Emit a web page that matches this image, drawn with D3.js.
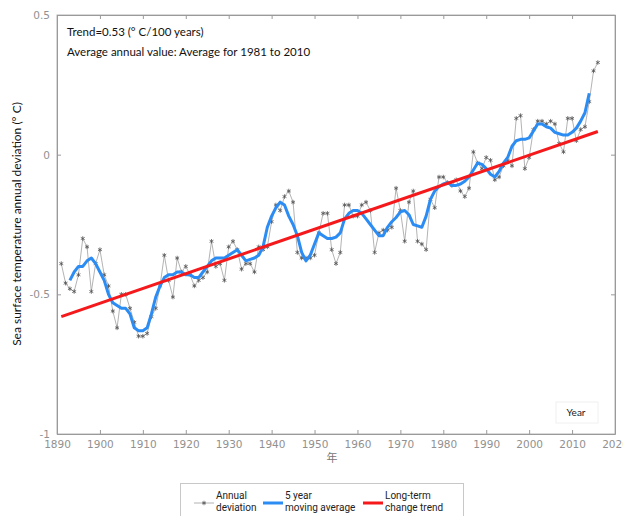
<!DOCTYPE html>
<html>
<head>
<meta charset="utf-8">
<script src="https://cdn.jsdelivr.net/npm/d3@7"></script>
<style>
body { margin: 0; background: #fff; }
svg { display: block; }
</style>
</head>
<body>
<script>
(function(){

// first year of the annual series
var firstYear = 1891;

// annual SST deviation (deg C), 1891-2016
var annualDev = [
    -0.39, -0.46, -0.48, -0.49, -0.43, -0.30, -0.33, -0.49, -0.39, -0.34,
    -0.43, -0.47, -0.56, -0.62, -0.50, -0.50, -0.55, -0.60, -0.65, -0.65,
    -0.64, -0.58, -0.55, -0.47, -0.36, -0.45, -0.51, -0.37, -0.42, -0.40,
    -0.43, -0.47, -0.45, -0.44, -0.42, -0.31, -0.40, -0.39, -0.45, -0.33,
    -0.31, -0.34, -0.41, -0.39, -0.39, -0.42, -0.33, -0.34, -0.33, -0.24,
    -0.18, -0.20, -0.15, -0.13, -0.17, -0.35, -0.37, -0.37, -0.37, -0.36,
    -0.28, -0.21, -0.21, -0.34, -0.39, -0.35, -0.18, -0.18, -0.22, -0.22,
    -0.18, -0.17, -0.20, -0.35, -0.28, -0.27, -0.27, -0.26, -0.12, -0.20,
    -0.31, -0.17, -0.13, -0.31, -0.32, -0.34, -0.16, -0.19, -0.08, -0.08,
    -0.10, -0.11, -0.09, -0.13, -0.15, -0.12,  0.01, -0.03, -0.05, -0.01,
    -0.02, -0.09, -0.08, -0.04, -0.02, -0.04,  0.13,  0.14, -0.05, -0.01,
     0.09,  0.12,  0.12,  0.11,  0.12,  0.11,  0.04,  0.01,  0.13,  0.13,
     0.05,  0.09,  0.10,  0.19,  0.30,  0.33
];

// 5 year moving average, 1893-2014
var avgStart = 1893;
var movingAvg = [
    -0.45, -0.42, -0.40, -0.40, -0.38, -0.37, -0.39, -0.42,
    -0.45, -0.50, -0.53, -0.54, -0.55, -0.55, -0.57, -0.62, -0.63, -0.63,
    -0.62, -0.57, -0.51, -0.47, -0.44, -0.43, -0.43, -0.42, -0.42, -0.43,
    -0.43, -0.44, -0.44, -0.42, -0.40, -0.38, -0.37, -0.37, -0.37, -0.36,
    -0.35, -0.34, -0.36, -0.38, -0.375, -0.37, -0.36, -0.33, -0.26, -0.22,
    -0.19, -0.17, -0.18, -0.22, -0.25, -0.29, -0.35, -0.38, -0.36, -0.32,
    -0.28, -0.29, -0.30, -0.30, -0.295, -0.28, -0.23, -0.21, -0.20, -0.20,
    -0.21, -0.23, -0.25, -0.27, -0.29, -0.29, -0.26, -0.24, -0.225, -0.205,
    -0.20, -0.215, -0.25, -0.255, -0.26, -0.22, -0.16, -0.13, -0.115, -0.105,
    -0.10, -0.11, -0.11, -0.105, -0.095, -0.08, -0.055, -0.03, -0.035, -0.05,
    -0.07, -0.08, -0.06, -0.03, -0.01, 0.03, 0.05, 0.055, 0.055, 0.06,
     0.085, 0.11, 0.11, 0.10, 0.095, 0.08, 0.075, 0.07, 0.07, 0.08,
     0.095, 0.12, 0.15, 0.22
];

// long-term trend (0.53 deg C / 100 years)
var trendYears = [1891, 2016];
var trendValues = [-0.58, 0.083];

// tick labels
var xTicks = [1890, 1900, 1910, 1920, 1930, 1940, 1950, 1960, 1970, 1980, 1990, 2000, 2010, 2020];
var yTicks = [-1, -0.5, 0, 0.5];

// texts
var noteLines = ["Trend=0.53 (\u00b0 C/100 years)", "Average annual value: Average for 1981 to 2010"];
var legendLabels = [["Annual", "deviation"], ["5 year", "moving average"], ["Long-term", "change trend"]];

// frame dimensions
var width = 623,
    height = 516,
    plotLeft = 57,
    plotRight = 615,
    plotTop = 15,
    plotBottom = 434;

var blue = "#2b8cf3",
    red = "#f5191c";

var svg = d3.select("body")
    .append("svg")
    .attr("width", width)
    .attr("height", height);

var x = d3.scaleLinear().domain([1890, 2020]).range([plotLeft, plotRight]);
var y = d3.scaleLinear().domain([-1, 0.5]).range([plotBottom, plotTop]);

// build point arrays
var annualPts = annualDev.map(function(v, i){ return [firstYear + i, v]; });
var avgPts = movingAvg.map(function(v, i){ return [avgStart + i, v]; });
var trendPts = trendYears.map(function(yr, i){ return [yr, trendValues[i]]; });

var line = d3.line()
    .x(function(d){ return x(d[0]); })
    .y(function(d){ return y(d[1]); });

// plot frame
svg.append("rect")
    .attr("x", plotLeft)
    .attr("y", plotTop)
    .attr("width", plotRight - plotLeft)
    .attr("height", plotBottom - plotTop)
    .attr("fill", "#fff")
    .attr("stroke", "#b4b4b4")
    .attr("stroke-width", 1);

// bottom axis, ticks inside
svg.append("g")
    .attr("transform", "translate(0," + plotBottom + ")")
    .call(d3.axisBottom(x).tickValues(xTicks).tickFormat(d3.format("d")).tickSizeInner(-4).tickSizeOuter(0).tickPadding(7));
svg.append("g")
    .attr("transform", "translate(0," + plotTop + ")")
    .call(d3.axisTop(x).tickValues(xTicks).tickFormat("").tickSizeInner(-4).tickSizeOuter(0));

// left axis, ticks inside
svg.append("g")
    .attr("transform", "translate(" + plotLeft + ",0)")
    .call(d3.axisLeft(y).tickValues(yTicks).tickFormat(function(d){ return d === 0 ? "0" : d; }).tickSizeInner(-4).tickSizeOuter(0).tickPadding(7));
svg.append("g")
    .attr("transform", "translate(" + plotRight + ",0)")
    .call(d3.axisRight(y).tickValues(yTicks).tickFormat("").tickSizeInner(-4).tickSizeOuter(0));

svg.selectAll(".domain").attr("stroke", "#9a9a9a");
svg.selectAll(".tick line").attr("stroke", "#9a9a9a");
svg.selectAll(".tick text")
    .attr("fill", "#919191")
    .style("font-family", "DejaVu Sans, sans-serif")
    .style("font-size", "10.5px");

// annual deviation line + asterisk markers
svg.append("path")
    .datum(annualPts)
    .attr("d", line)
    .attr("fill", "none")
    .attr("stroke", "#a0a0a0")
    .attr("stroke-width", 0.8);

var star = d3.symbol().type(d3.symbolAsterisk).size(14);
svg.selectAll(".pt")
    .data(annualPts)
    .enter()
    .append("path")
    .attr("class", "pt")
    .attr("transform", function(d){ return "translate(" + x(d[0]) + "," + y(d[1]) + ")"; })
    .attr("d", star)
    .attr("fill", "none")
    .attr("stroke", "#555")
    .attr("stroke-width", 0.8);

// 5 year moving average
svg.append("path")
    .datum(avgPts)
    .attr("d", line)
    .attr("fill", "none")
    .attr("stroke", blue)
    .attr("stroke-width", 3)
    .attr("stroke-linejoin", "round");

// long-term trend
svg.append("path")
    .datum(trendPts)
    .attr("d", line)
    .attr("fill", "none")
    .attr("stroke", red)
    .attr("stroke-width", 3);

// notes inside the plot
svg.selectAll(".note")
    .data(noteLines)
    .enter()
    .append("text")
    .attr("x", 67)
    .attr("y", function(d, i){ return 36 + i * 20; })
    .style("font-family", "Lato, sans-serif")
    .style("font-size", "11.5px")
    .attr("fill", "#111")
    .text(function(d){ return d; });

// "Year" box
svg.append("rect")
    .attr("x", 556)
    .attr("y", 402)
    .attr("width", 42)
    .attr("height", 21)
    .attr("fill", "#fff")
    .attr("stroke", "#f0f0f0");
svg.append("text")
    .attr("x", 576)
    .attr("y", 416)
    .attr("text-anchor", "middle")
    .style("font-family", "Lato, sans-serif")
    .style("font-size", "10px")
    .attr("fill", "#222")
    .text("Year");

// axis titles
svg.append("text")
    .attr("x", 332)
    .attr("y", 462)
    .attr("text-anchor", "middle")
    .style("font-family", "Noto Sans CJK JP, sans-serif")
    .style("font-size", "11px")
    .attr("fill", "#777")
    .text("\u5e74");

svg.append("text")
    .attr("transform", "translate(21,224) rotate(-90)")
    .attr("text-anchor", "middle")
    .style("font-family", "Lato, sans-serif")
    .style("font-size", "12px")
    .attr("fill", "#111")
    .text("Sea surface temperature annual deviation (\u00b0 C)");

// legend
var legend = svg.append("g");
legend.append("rect")
    .attr("x", 180.5)
    .attr("y", 483.5)
    .attr("width", 283)
    .attr("height", 45)
    .attr("fill", "#fff")
    .attr("stroke", "#c8c8c8");

var legX = [194, 263, 363];
var legColors = ["#a0a0a0", blue, red];
var legWidths = [0.8, 3, 3];
legendLabels.forEach(function(lab, i){
    legend.append("line")
        .attr("x1", legX[i])
        .attr("x2", legX[i] + 20)
        .attr("y1", 503)
        .attr("y2", 503)
        .attr("stroke", legColors[i])
        .attr("stroke-width", legWidths[i]);
    if (i === 0){
        legend.append("path")
            .attr("transform", "translate(" + (legX[i] + 10) + ",503)")
            .attr("d", star)
            .attr("fill", "none")
            .attr("stroke", "#555")
            .attr("stroke-width", 0.8);
    }
    legend.selectAll(".lt" + i)
        .data(lab)
        .enter()
        .append("text")
        .attr("x", legX[i] + 22)
        .attr("y", function(d, j){ return 499 + j * 12; })
        .style("font-family", "Liberation Sans Narrow, Roboto, sans-serif")
        .style("font-size", "10px")
        .attr("fill", "#222")
        .text(function(d){ return d; });
});

})();
</script>
</body>
</html>
